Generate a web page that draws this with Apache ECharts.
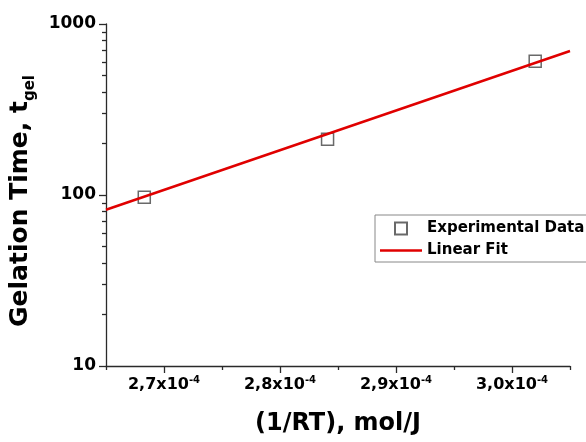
<!DOCTYPE html>
<html>
<head>
<meta charset="utf-8">
<style>
  html, body { margin: 0; padding: 0; background: #fff; }
  #chart { width: 586px; height: 442px; }
</style>
<script src="https://cdn.jsdelivr.net/npm/echarts@6/dist/echarts.min.js"></script>
</head>
<body>
<div id="chart"></div>
<script>
// 1/RT in units of 1e-4 mol/J, gelation time t_gel
const invRT = [2.683, 2.841, 3.020];
const tGel = [97, 212, 605];

// linear fit (log t_gel vs 1/RT), drawn across the full x range
const fitInvRT = [2.65, 3.05];
const fitTGel = [82, 695];

// axis ticks
const xMajorTicks = [2.7, 2.8, 2.9, 3.0];
const xTickLabels = ['2,7', '2,8', '2,9', '3,0'];
const xMinorTicks = [2.65, 2.75, 2.85, 2.95, 3.05];
const yMinorTicks = [20, 30, 40, 50, 60, 70, 80, 90, 200, 300, 400, 500, 600, 700, 800, 900];

const FONT = 'DejaVu Sans';
const AXIS_COLOR = '#2a2a2a';
const FIT_COLOR = '#e00000';

const chart = echarts.init(document.getElementById('chart'), null, { renderer: 'canvas' });

chart.setOption({
  animation: false,
  backgroundColor: '#fff',
  textStyle: { fontFamily: FONT },
  grid: { left: 106, right: 16, top: 24, bottom: 76 },
  legend: {
    orient: 'vertical',
    left: 375,
    top: 215,
    padding: [6, 6, 4, 5],
    itemWidth: 42,
    itemHeight: 12,
    itemGap: 7,
    borderColor: '#888',
    borderWidth: 1,
    backgroundColor: '#fff',
    textStyle: { fontFamily: FONT, fontWeight: 'bold', fontSize: 15, color: '#000' },
    data: [
      { name: 'Experimental Data', icon: 'path://M0,0L10,0L10,10L0,10Z' },
      { name: 'Linear Fit', icon: 'path://M0,0L42,0L42,2.5L0,2.5Z', itemStyle: { color: FIT_COLOR, borderWidth: 0 } }
    ]
  },
  xAxis: [
    {
      type: 'value',
      min: 2.65,
      max: 3.05,
      name: '(1/RT), mol/J',
      nameLocation: 'middle',
      nameGap: 46,
      nameTextStyle: { fontFamily: FONT, fontWeight: 'bold', fontSize: 24, color: '#000' },
      axisLine: { show: true, lineStyle: { color: AXIS_COLOR, width: 1.3 } },
      axisTick: { show: true, customValues: xMajorTicks, length: 7, lineStyle: { color: AXIS_COLOR, width: 1.3 } },
      axisLabel: {
        customValues: xMajorTicks,
        margin: 9,
        formatter: function (v) {
          let i = xMajorTicks.findIndex(t => Math.abs(t - v) < 1e-6);
          return '{m|' + xTickLabels[i] + 'x10}{s|-4}';
        },
        rich: {
          m: { fontFamily: FONT, fontWeight: 'bold', fontSize: 16, color: '#000', lineHeight: 19 },
          s: { fontFamily: FONT, fontWeight: 'bold', fontSize: 10, color: '#000', lineHeight: 10, verticalAlign: 'top' }
        }
      },
      splitLine: { show: false }
    },
    {
      type: 'value',
      min: 2.65,
      max: 3.05,
      position: 'bottom',
      axisLine: { show: false },
      axisTick: { show: true, customValues: xMinorTicks, length: 4, lineStyle: { color: AXIS_COLOR, width: 1.3 } },
      axisLabel: { show: false },
      splitLine: { show: false }
    }
  ],
  yAxis: [
    {
      type: 'log',
      logBase: 10,
      min: 10,
      max: 1000,
      name: '{a|Gelation Time, t}{b|gel}',
      nameLocation: 'middle',
      nameRotate: 90,
      nameGap: 65,
      nameTextStyle: {
        padding: [0, 12, 0, 0],
        rich: {
          a: { fontFamily: FONT, fontWeight: 'bold', fontSize: 25, color: '#000', lineHeight: 34 },
          b: { fontFamily: FONT, fontWeight: 'bold', fontSize: 15, color: '#000', lineHeight: 15, verticalAlign: 'bottom' }
        }
      },
      axisLine: { show: true, lineStyle: { color: AXIS_COLOR, width: 1.3 } },
      axisTick: { show: true, length: 7, lineStyle: { color: AXIS_COLOR, width: 1.3 } },
      axisLabel: {
        margin: 10,
        fontFamily: FONT,
        fontWeight: 'bold',
        fontSize: 17,
        color: '#000',
        formatter: function (v) { return String(Math.round(v)); }
      },
      splitLine: { show: false }
    },
    {
      // minor ticks of the log axis, placed on a linear log10 scale
      type: 'value',
      min: 1,
      max: 3,
      position: 'left',
      axisLine: { show: false },
      axisTick: { show: true, customValues: yMinorTicks.map(v => Math.log10(v)), length: 4, lineStyle: { color: AXIS_COLOR, width: 1.3 } },
      axisLabel: { show: false },
      splitLine: { show: false }
    }
  ],
  series: [
    {
      name: 'Experimental Data',
      type: 'scatter',
      xAxisIndex: 0,
      yAxisIndex: 0,
      symbol: 'rect',
      symbolSize: 12,
      itemStyle: { color: 'rgba(255,255,255,0)', borderColor: '#444', borderWidth: 1.5 },
      data: invRT.map((x, i) => [x, tGel[i]]),
      z: 2
    },
    {
      name: 'Linear Fit',
      type: 'line',
      xAxisIndex: 0,
      yAxisIndex: 0,
      symbol: 'none',
      lineStyle: { color: FIT_COLOR, width: 2.5 },
      itemStyle: { color: FIT_COLOR },
      data: fitInvRT.map((x, i) => [x, fitTGel[i]]),
      z: 3
    }
  ]
});
</script>
</body>
</html>
